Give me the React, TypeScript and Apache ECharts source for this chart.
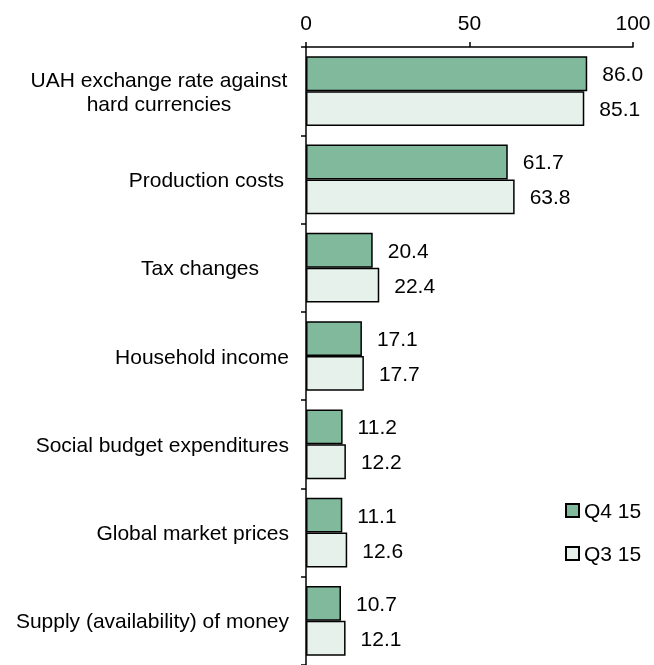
import React, { useEffect, useRef } from "react";
import * as echarts from "echarts";

const categories = [
  "UAH exchange rate against\nhard currencies",
  "Production costs",
  "Tax changes",
  "Household income",
  "Social budget expenditures",
  "Global market prices",
  "Supply (availability) of money",
];
const q4Values = [86.0, 61.7, 20.4, 17.1, 11.2, 11.1, 10.7];
const q3Values = [85.1, 63.8, 22.4, 17.7, 12.2, 12.6, 12.1];
const seriesNames = ["Q4 15", "Q3 15"];
const xTicks = { min: 0, max: 100, interval: 50 };

const FONT = "Arial, 'Liberation Sans', sans-serif";
const FS = 21;

export default function App() {
  const ref = useRef<HTMLDivElement>(null);
  useEffect(() => {
    if (!ref.current) return;
    const chart = echarts.init(ref.current, null, { renderer: "svg" });
    const labelPads: Record<number, any> = {
      0: { align: "center", padding: [0, 260, 0, 0], lineHeight: 24 },
      1: { padding: [0, 5, 0, 0] },
      2: { padding: [0, 30, 0, 0] },
    };
    const yData = categories.map((c, i) =>
      labelPads[i] ? { value: c, textStyle: labelPads[i] } : c
    );
    const valueLabel = {
      show: true,
      position: "right",
      distance: 15,
      color: "#000",
      fontFamily: FONT,
      fontSize: FS,
      formatter: (p: any) => Number(p.value).toFixed(1),
    };
    chart.setOption({
      animation: false,
      textStyle: { fontFamily: FONT },
      grid: { left: 306, right: 21, top: 47, bottom: -4, containLabel: false },
      legend: {
        orient: "vertical",
        left: 560,
        top: 495,
        icon: "rect",
        itemWidth: 13,
        itemHeight: 13,
        itemGap: 22,
        textStyle: { fontFamily: FONT, fontSize: FS, color: "#000" },
        data: seriesNames,
      },
      xAxis: {
        type: "value",
        position: "top",
        min: xTicks.min,
        max: xTicks.max,
        interval: xTicks.interval,
        axisLine: { show: true, lineStyle: { color: "#000", width: 1.5 } },
        axisTick: { show: true, length: 5, lineStyle: { color: "#000", width: 1.5 } },
        axisLabel: { color: "#000", fontFamily: FONT, fontSize: FS, margin: 14 },
        splitLine: { show: false },
      },
      yAxis: {
        type: "category",
        inverse: true,
        data: yData,
        axisLine: { show: true, lineStyle: { color: "#000", width: 1.5 } },
        axisTick: { show: true, length: 5, lineStyle: { color: "#000", width: 1.5 } },
        axisLabel: {
          color: "#000",
          fontFamily: FONT,
          fontSize: FS,
          margin: 17,
          align: "right",
        },
      },
      series: [
        {
          name: seriesNames[0],
          type: "bar",
          data: q4Values,
          barGap: "0%",
          barCategoryGap: "21%",
          itemStyle: { color: "#80B99C", borderColor: "#000", borderWidth: 1.5 },
          label: valueLabel,
        },
        {
          name: seriesNames[1],
          type: "bar",
          data: q3Values,
          barGap: "0%",
          barCategoryGap: "21%",
          itemStyle: { color: "#E7F1EB", borderColor: "#000", borderWidth: 1.5 },
          label: valueLabel,
        },
      ],
    });
    return () => chart.dispose();
  }, []);
  return (
    <div
      ref={ref}
      style={{ position: "fixed", left: 0, top: 0, width: 654, height: 665 }}
    />
  );
}
